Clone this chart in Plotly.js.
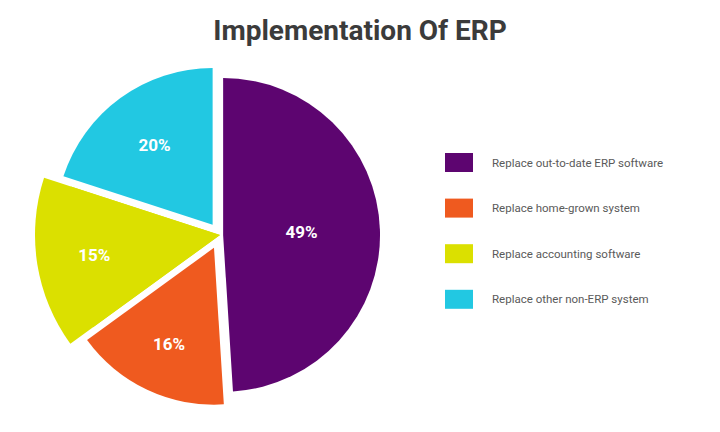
<!DOCTYPE html>
<html>
<head>
<meta charset="utf-8">
<script src="https://cdn.plot.ly/plotly-3.0.1.min.js"></script>
<style>html,body{margin:0;padding:0;background:#fff;}#chart{width:720px;height:432px;}</style>
</head>
<body>
<div id="chart"></div>
<script>
// Data
var categories = ["Replace out-to-date ERP software", "Replace home-grown system", "Replace accounting software", "Replace other non-ERP system"];
var shares = [49, 16, 15, 20];
var colors = ["#5d0570", "#ef5a1f", "#dbe000", "#22c8e2"];
var pulls = [0.02, 0.09, 0, 0.08];
var titleText = "Implementation Of ERP";

var W = 720, H = 432;
function px(x){ return x / W; }
function py(y){ return 1 - y / H; }

var CX = 220, CY = 235;

// main pie (radius ~157)
var trace1 = {
  type: "pie",
  labels: categories,
  values: shares,
  sort: false,
  direction: "clockwise",
  rotation: 0,
  pull: pulls,
  marker: {colors: colors, line: {width: 0}},
  texttemplate: categories.map(function(c, i){ return i === 2 ? "" : "%{percent}"; }),
  textposition: "inside",
  insidetextorientation: "horizontal",
  textfont: {family: "Roboto, Arial, sans-serif", size: 17, color: "#ffffff", weight: 700},
  domain: {x: [px(CX - 171), px(CX + 171)], y: [py(CY + 171), py(CY - 171)]},
  showlegend: false,
  hoverinfo: "label+percent"
};

// larger accounting-software slice (radius ~185)
var trace2 = {
  type: "pie",
  labels: categories,
  values: shares,
  sort: false,
  direction: "clockwise",
  rotation: 0,
  marker: {colors: colors.map(function(c, i){ return i === 2 ? c : "rgba(0,0,0,0)"; }), line: {width: 0}},
  texttemplate: categories.map(function(c, i){ return i === 2 ? "%{percent}" : ""; }),
  textposition: "inside",
  insidetextorientation: "horizontal",
  textfont: {family: "Roboto, Arial, sans-serif", size: 17, color: "#ffffff", weight: 700},
  domain: {x: [px(CX - 185), px(CX + 185)], y: [py(CY + 185), py(CY - 185)]},
  showlegend: false,
  hoverinfo: "skip"
};

// manual legend (wide colour keys)
var shapes = [], annotations = [];
categories.forEach(function(c, i){
  var cy = 162.5 + i * 45.6;
  shapes.push({type: "rect", xref: "paper", yref: "paper",
    x0: px(445), x1: px(473), y0: py(cy + 9.5), y1: py(cy - 9.5),
    fillcolor: colors[i], line: {width: 0}});
  annotations.push({xref: "paper", yref: "paper", x: px(490), y: py(cy),
    xanchor: "left", yanchor: "middle", showarrow: false, text: c,
    font: {family: "Roboto, Arial, sans-serif", size: 11.5, color: "#5a5a5a"}});
});

var layout = {
  width: W, height: H,
  margin: {l: 0, r: 0, t: 0, b: 0},
  paper_bgcolor: "#ffffff",
  plot_bgcolor: "#ffffff",
  title: {text: titleText, x: 0.5, xanchor: "center", y: py(30), yanchor: "middle",
    font: {family: "Roboto, Arial, sans-serif", size: 28, color: "#3b3b3b", weight: 700}},
  showlegend: false,
  shapes: shapes,
  annotations: annotations
};

Plotly.newPlot("chart", [trace1, trace2], layout, {displayModeBar: false, staticPlot: true});
</script>
</body>
</html>
